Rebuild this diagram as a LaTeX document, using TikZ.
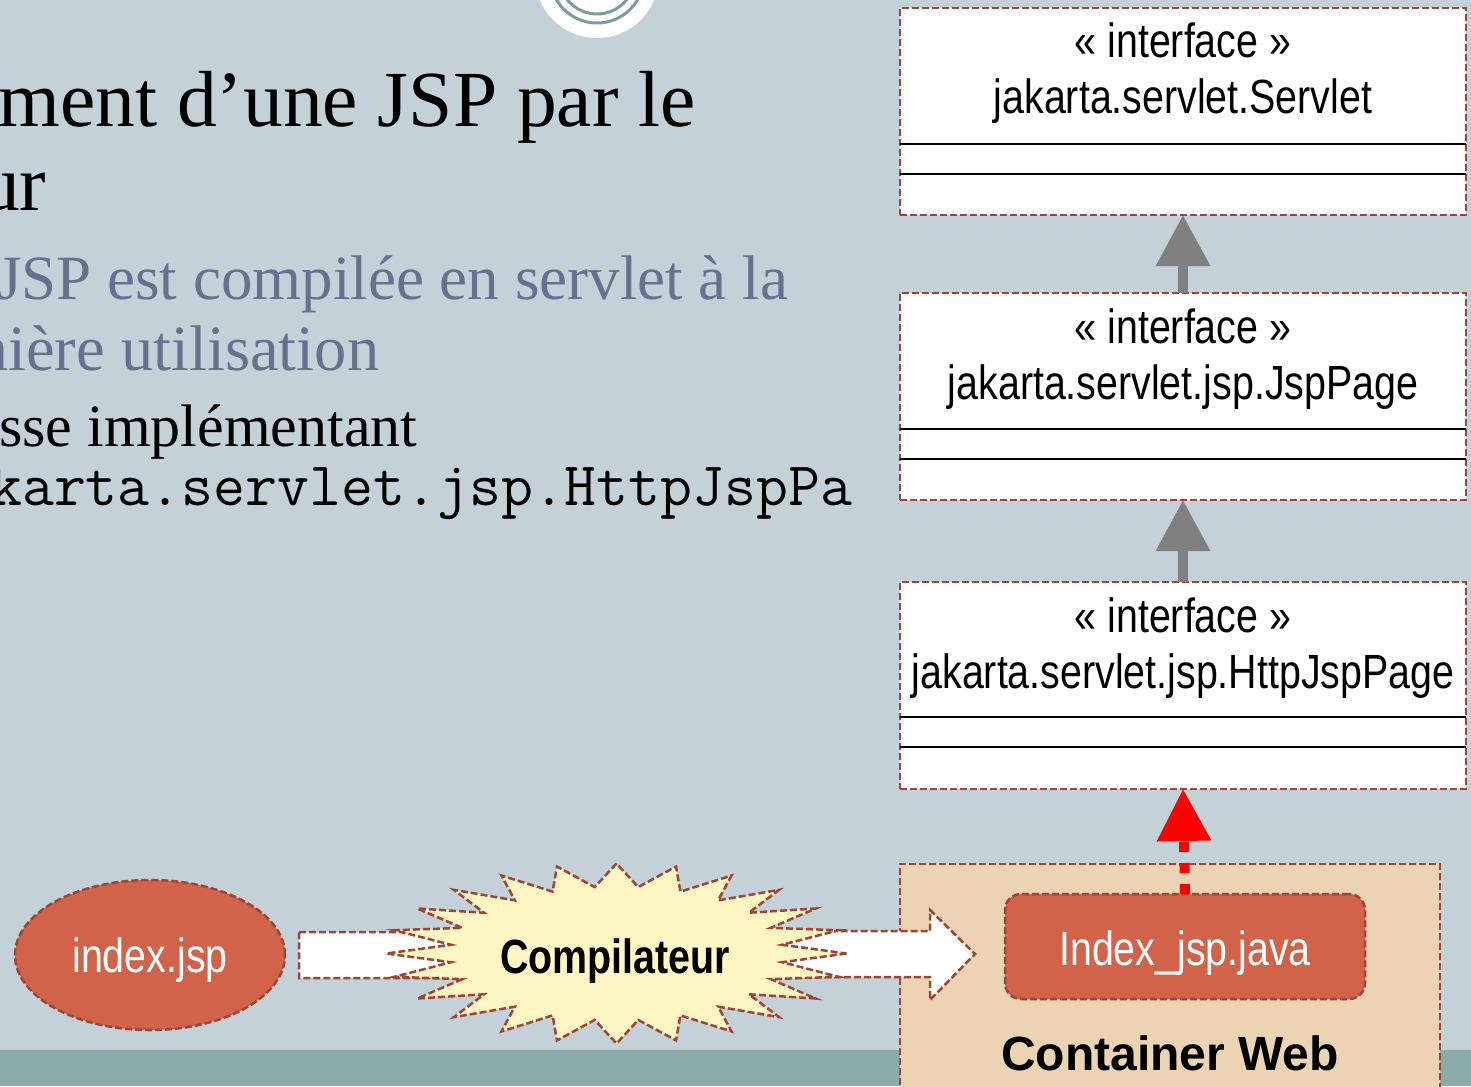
\documentclass[tikz,border=0pt]{standalone}
\usepackage{fontspec}
\setmainfont{Liberation Serif}
\newfontfamily\umlfont[FakeStretch=0.82]{Liberation Sans}
\newfontfamily\labelfont{Liberation Sans}
\usetikzlibrary{arrows.meta,calc,shapes.geometric}
\pgfdeclarelayer{bottom}
\pgfdeclarelayer{middle}
\pgfsetlayers{bottom,middle,main}

\definecolor{slidebg}{HTML}{C5D1D8}
\definecolor{stripbg}{HTML}{8BABAB}
\definecolor{ringteal}{HTML}{7C9E9B}
\definecolor{brownline}{HTML}{9E4536}
\definecolor{brick}{HTML}{D0634A}
\definecolor{peach}{HTML}{ECD3B4}
\definecolor{burstfill}{HTML}{FFF6C3}
\definecolor{arrowgray}{HTML}{808080}
\definecolor{bodygray}{HTML}{67718F}

\tikzset{
  dashborder/.style={draw=brownline, line width=2.5pt, dash pattern=on 7pt off 3pt},
  classbox/.style={dashborder, fill=white, rectangle, minimum width=566pt,
    minimum height=207pt, inner sep=0pt, outer sep=0pt},
  umltext/.style={font=\umlfont\fontsize{48}{56}\selectfont, anchor=base, inner sep=0pt},
  whitetext/.style={umltext, text=white},
  boldtext/.style={font=\labelfont\bfseries\fontsize{48}{56}\selectfont, anchor=base, inner sep=0pt},
  sepline/.style={line width=2.5pt, black},
  inherit/.style={draw=arrowgray, line width=10pt, -{Triangle[width=52pt,length=51pt]}},
  realize/.style={draw=red, line width=10pt, dash pattern=on 10pt off 11pt,
    -{Triangle[width=52pt,length=52pt]}},
  blockarrow/.style={dashborder, fill=white, line join=miter},
  slidetext/.style={anchor=base west, inner sep=0pt},
}

\begin{document}
\begin{tikzpicture}[x=1pt, y=-1pt]
\useasboundingbox (0,0) rectangle (1471,1086);

% slide background, footer strip and the ring ornament at the top
\begin{pgfonlayer}{bottom}
  \fill[slidebg] (0,0) rectangle (1471,1086);
  \fill[stripbg] (0,1050) rectangle (1471,1086);
  \fill[white] (597,-24) circle (62);
  \draw[ringteal, line width=3pt] (597,-24) circle (47);
  \draw[ringteal, line width=3pt] (597,-24) circle (38);
  % web container
  \node[dashborder, fill=peach, rectangle, minimum width=540pt, minimum height=236pt,
        inner sep=0pt, outer sep=0pt] (web) at (1170,982) {};
\end{pgfonlayer}

% slide text
\node[slidetext, font=\fontsize{79.5}{90}\selectfont] (title1) at (-2,127) {ment d’une JSP par le};
\node[slidetext, font=\fontsize{79.5}{90}\selectfont] (title2) at (-20,210) {ur};
\node[slidetext, font=\fontsize{63}{72}\selectfont, text=bodygray] (line1) at (-3,299) {JSP est compilée en servlet à la};
\node[slidetext, font=\fontsize{64.5}{72}\selectfont, text=bodygray] (line2) at (-42,370) {mière utilisation};
\node[slidetext, font=\fontsize{60}{70}\selectfont] (line3) at (-1,446) {sse implémentant};
\node[slidetext, font=\ttfamily\fontsize{62}{70}\selectfont] (line4) at (-10,505) {karta.servlet.jsp.HttpJspPa};

% UML interfaces
\node[classbox] (b1) at (1183,111.5) {};
\node[umltext] (b1s) at (1183,58) {« interface »};
\node[umltext] (b1n) at (1183,114) {jakarta.servlet.Servlet};
\draw[sepline] ($(b1.north west)+(0,136)$) -- ($(b1.north east)+(0,136)$);
\draw[sepline] ($(b1.north west)+(0,166)$) -- ($(b1.north east)+(0,166)$);

\node[classbox] (b2) at (1183,396.5) {};
\node[umltext] (b2s) at (1183,343) {« interface »};
\node[umltext] (b2n) at (1183,399) {jakarta.servlet.jsp.JspPage};
\draw[sepline] ($(b2.north west)+(0,136)$) -- ($(b2.north east)+(0,136)$);
\draw[sepline] ($(b2.north west)+(0,166)$) -- ($(b2.north east)+(0,166)$);

\node[classbox] (b3) at (1183,685.5) {};
\node[umltext] (b3s) at (1183,632) {« interface »};
\node[umltext] (b3n) at (1183,688) {jakarta.servlet.jsp.HttpJspPage};
\draw[sepline] ($(b3.north west)+(0,135)$) -- ($(b3.north east)+(0,135)$);
\draw[sepline] ($(b3.north west)+(0,165)$) -- ($(b3.north east)+(0,165)$);

% inheritance arrows
\draw[inherit] (b2.north) -- (b1.south);
\draw[inherit] (b3.north) -- (b2.south);

% source page
\node[dashborder, fill=brick, ellipse, minimum width=270pt, minimum height=150pt,
      inner sep=0pt, outer sep=0pt] (jsp) at (150,955) {};
\node[whitetext] (jsplabel) at (150,972) {index.jsp};

% generated servlet inside the container
\node[dashborder, fill=brick, rectangle, rounded corners=16pt, minimum width=360pt,
      minimum height=105pt, inner sep=0pt, outer sep=0pt] (idx) at (1185,946.5) {};
\node[whitetext] (idxlabel) at (1185,965) {Index\_jsp.java};
\node[boldtext] (weblabel) at (1170,1070) {Container Web};

\draw[realize] (idx.north) -- (b3.south);

% compiler burst
\coordinate (burst) at (616.5,953.5);
\begin{pgfonlayer}{middle}
  \draw[blockarrow] ($(jsp.east)+(14,-23)$) -- ++(220,0) -- ++(0,-21) -- ++(45,44)
        -- ++(-45,46) -- ++(0,-23) -- ++(-220,0) -- cycle;
  \draw[blockarrow] ($(burst)+(84,-22.5)$) -- ($(web.west)+(30,-51)$) -- ++(0,-21)
        -- ++(45,44) -- ++(-45,46) -- ++(0,-23) -- ($(burst)+(84,23.5)$) -- cycle;
\end{pgfonlayer}
\draw[dashborder, fill=burstfill, line join=miter, miter limit=20]
  plot[samples at={0,7.5,...,352.5}, variable=\t]
  ({616.5+(198.5+31.5*cos(24*\t))*cos(\t)}, {953.5+(78.5+11.5*cos(24*\t))*sin(\t)}) -- cycle;
\node[boldtext, font=\umlfont\bfseries\fontsize{48}{56}\selectfont] (comp) at (615,973) {Compilateur};
\end{tikzpicture}
\end{document}
